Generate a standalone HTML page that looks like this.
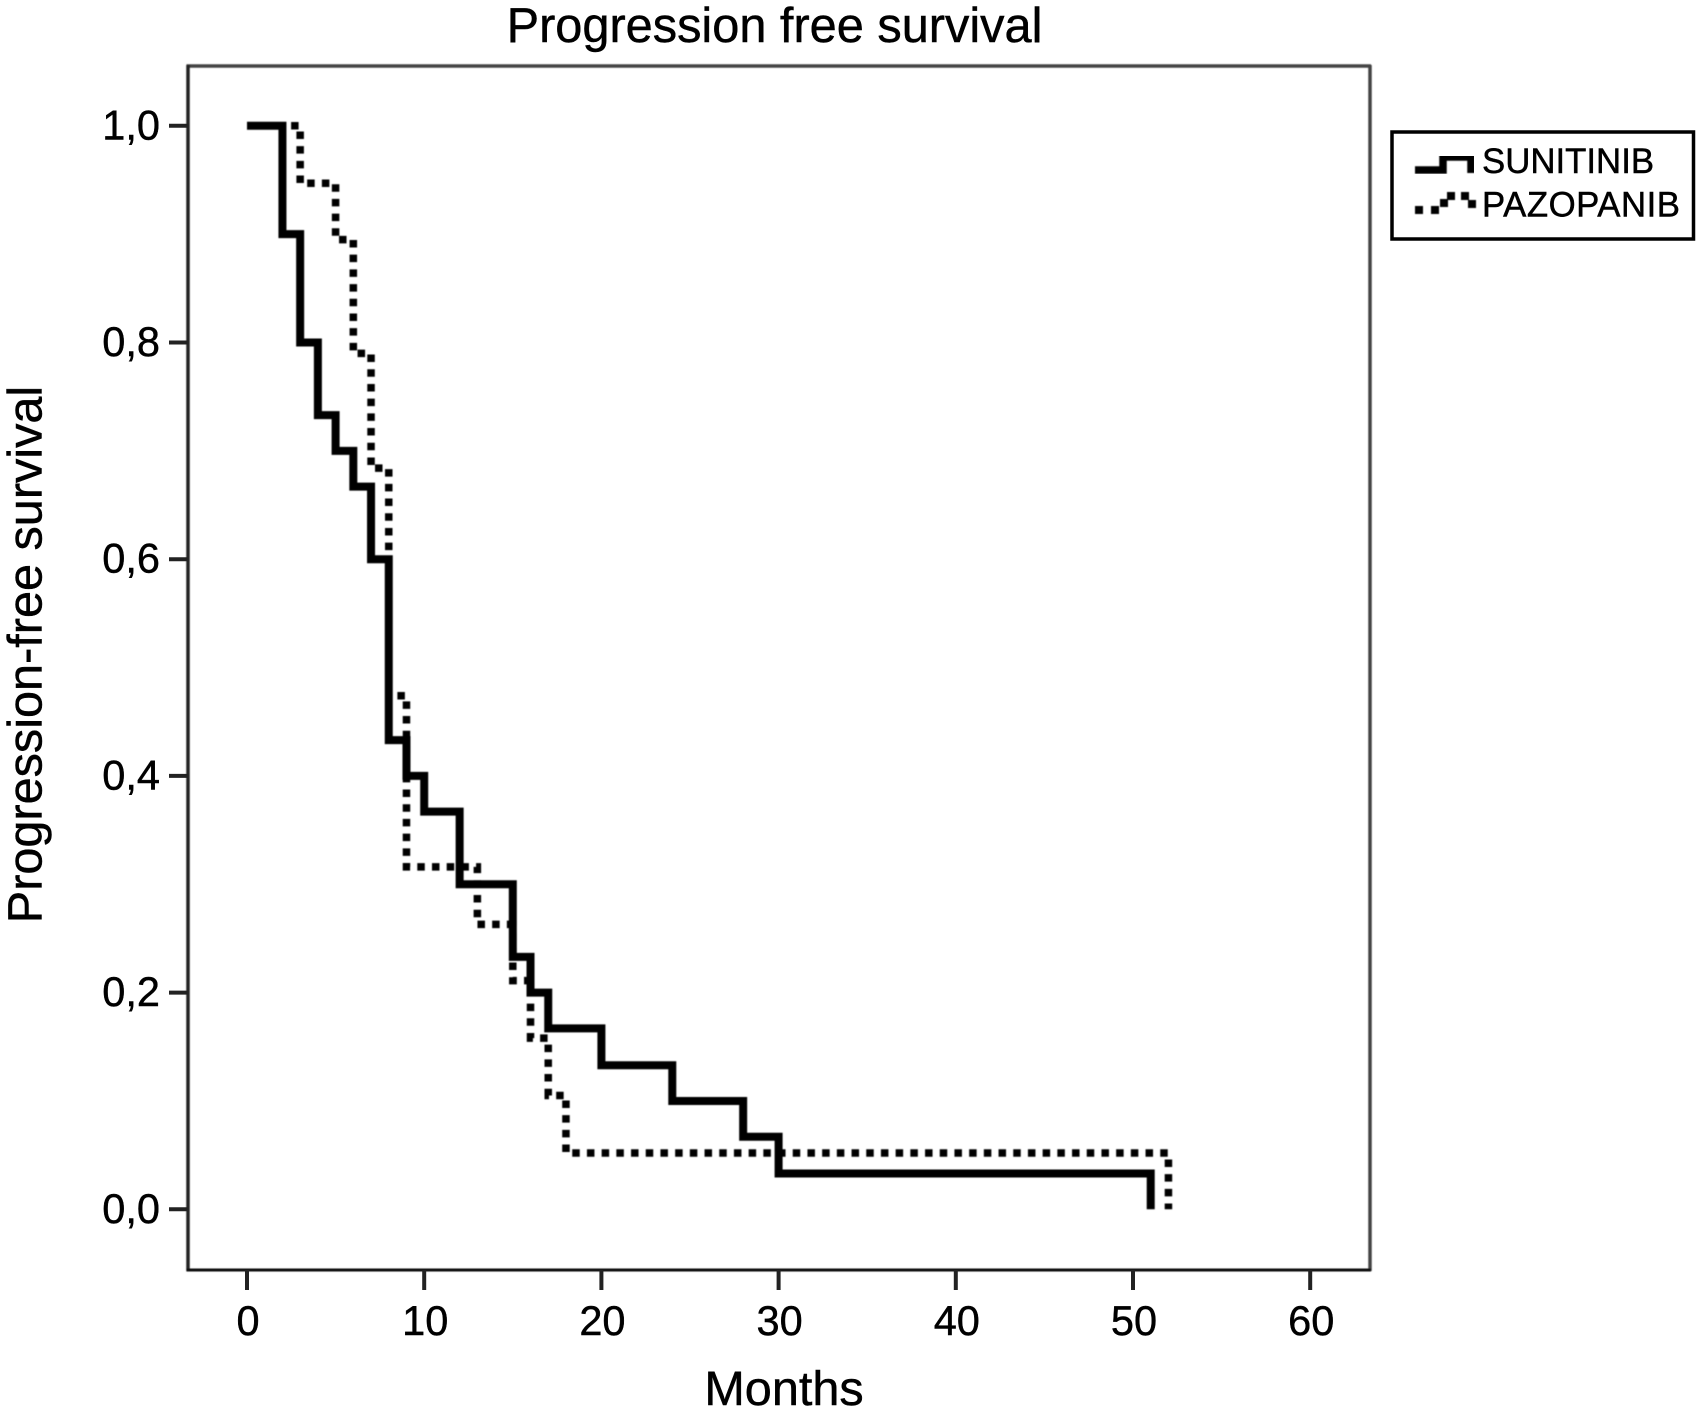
<!DOCTYPE html>
<html lang="en">
<head>
<meta charset="utf-8">
<title>Progression free survival</title>
<style>
  html, body { margin: 0; padding: 0; background: #fff; }
  svg { display: block; }
  text { font-family: "Liberation Sans", Arial, sans-serif; fill: #000; stroke: #000; stroke-width: 0.45px; }
</style>
</head>
<body>
<svg id="chart" xmlns="http://www.w3.org/2000/svg" width="1696" height="1417" viewBox="0 0 1696 1417">
  <defs>
    <filter id="soft" x="-5%" y="-5%" width="110%" height="110%"><feGaussianBlur stdDeviation="0.45"/></filter>
  </defs>
  <rect x="0" y="0" width="1696" height="1417" fill="#ffffff"/>
  <text x="774.5" y="42" font-size="48.7" text-anchor="middle">Progression free survival</text>
  <g filter="url(#soft)">
    <line x1="186.5" y1="66" x2="1371" y2="66" stroke="#444" stroke-width="3.5"/>
    <line x1="188" y1="65" x2="188" y2="1271" stroke="#222" stroke-width="3.5"/>
    <line x1="1370" y1="65" x2="1370" y2="1271" stroke="#444" stroke-width="3.5"/>
    <line x1="186.5" y1="1270" x2="1371" y2="1270" stroke="#111" stroke-width="3"/>
  </g>
  <g id="axes"></g>
  <g id="series" filter="url(#soft)"></g>
  <text x="784" y="1405" font-size="48.6" text-anchor="middle">Months</text>
  <text transform="translate(41.5,654.5) rotate(-90)" font-size="48.6" text-anchor="middle">Progression-free survival</text>
  <g>
    <rect x="1392" y="132" width="301.5" height="107" fill="#fff" stroke="#000" stroke-width="3.5"/>
    <g>
      <path d="M1415 170 H1443 V157 H1471 V173" fill="none" stroke="#000" stroke-width="7.5" filter="url(#soft)"/>
      <text x="1482" y="173" font-size="34.8">SUNITINIB</text>
    </g>
    <g>
      <g fill="#000" filter="url(#soft)">
        <rect x="1415" y="206" width="8" height="8"/>
        <rect x="1431" y="206" width="8" height="8"/>
        <rect x="1440" y="199" width="8" height="8"/>
        <rect x="1447" y="192" width="8" height="8"/>
        <rect x="1461" y="192" width="8" height="8"/>
        <rect x="1468" y="200" width="8" height="8"/>
      </g>
      <text x="1482" y="216.5" font-size="34.8" textLength="198" lengthAdjust="spacing">PAZOPANIB</text>
    </g>
  </g>
</svg>
<script>
const xTicks = [0, 10, 20, 30, 40, 50, 60];
const yTicks = [0, 0.2, 0.4, 0.6, 0.8, 1.0];
const yTickLabels = ["0,0", "0,2", "0,4", "0,6", "0,8", "1,0"];
const sunitinibMonths = [0, 2, 3, 4, 5, 6, 7, 8, 9, 10, 12, 15, 16, 17, 20, 24, 28, 30, 51];
const sunitinibSurvival = [1.0, 0.9, 0.8, 0.733, 0.7, 0.667, 0.6, 0.433, 0.4, 0.367, 0.3, 0.233, 0.2, 0.167, 0.133, 0.1, 0.067, 0.033, 0];
const pazopanibMonths = [0, 3, 5, 6, 7, 8, 9, 13, 15, 16, 17, 18, 52];
const pazopanibSurvival = [1.0, 0.947, 0.895, 0.79, 0.684, 0.474, 0.316, 0.263, 0.211, 0.158, 0.105, 0.052, 0];

const SVG_NS = "http://www.w3.org/2000/svg";
function xScale(m) { return 247 + m * 17.72; }
function yScale(s) { return 1209.3 - s * 1083.5; }

function stepPath(months, survival) {
  let d = "M" + xScale(months[0]) + " " + yScale(survival[0]);
  for (let i = 1; i < months.length; i++) {
    d += " H" + xScale(months[i]) + " V" + yScale(survival[i]);
  }
  return d;
}

const axes = document.getElementById("axes");
xTicks.forEach(function (t) {
  const tick = document.createElementNS(SVG_NS, "line");
  
  
  tick.setAttribute("x1", xScale(t));
  tick.setAttribute("x2", xScale(t));
  tick.setAttribute("y1", 1270);
  tick.setAttribute("y2", 1290);
  tick.setAttribute("stroke", "#222");
  tick.setAttribute("stroke-width", 4);
  axes.appendChild(tick);
  const label = document.createElementNS(SVG_NS, "text");
  
  
  label.setAttribute("x", xScale(t) + 1);
  label.setAttribute("y", 1335);
  label.setAttribute("font-size", 41.5);
  label.setAttribute("text-anchor", "middle");
  label.textContent = String(t);
  axes.appendChild(label);
});
yTicks.forEach(function (t, i) {
  const tick = document.createElementNS(SVG_NS, "line");
  
  
  tick.setAttribute("x1", 169);
  tick.setAttribute("x2", 188);
  tick.setAttribute("y1", yScale(t));
  tick.setAttribute("y2", yScale(t));
  tick.setAttribute("stroke", "#222");
  tick.setAttribute("stroke-width", 4);
  axes.appendChild(tick);
  const label = document.createElementNS(SVG_NS, "text");
  
  
  label.setAttribute("x", 160);
  label.setAttribute("y", yScale(t) + 13.5);
  label.setAttribute("font-size", 41.5);
  label.setAttribute("text-anchor", "end");
  label.textContent = yTickLabels[i];
  axes.appendChild(label);
});

const series = document.getElementById("series");
const pazopanibLine = document.createElementNS(SVG_NS, "path");


pazopanibLine.setAttribute("d", stepPath(pazopanibMonths, pazopanibSurvival));
pazopanibLine.setAttribute("fill", "none");
pazopanibLine.setAttribute("stroke", "#000");
pazopanibLine.setAttribute("stroke-width", 7.5);
pazopanibLine.setAttribute("stroke-dasharray", "7.5 7.2");
series.appendChild(pazopanibLine);

const sunitinibLine = document.createElementNS(SVG_NS, "path");


sunitinibLine.setAttribute("d", stepPath(sunitinibMonths, sunitinibSurvival));
sunitinibLine.setAttribute("fill", "none");
sunitinibLine.setAttribute("stroke", "#000");
sunitinibLine.setAttribute("stroke-width", 8);
series.appendChild(sunitinibLine);
</script>
</body>
</html>
